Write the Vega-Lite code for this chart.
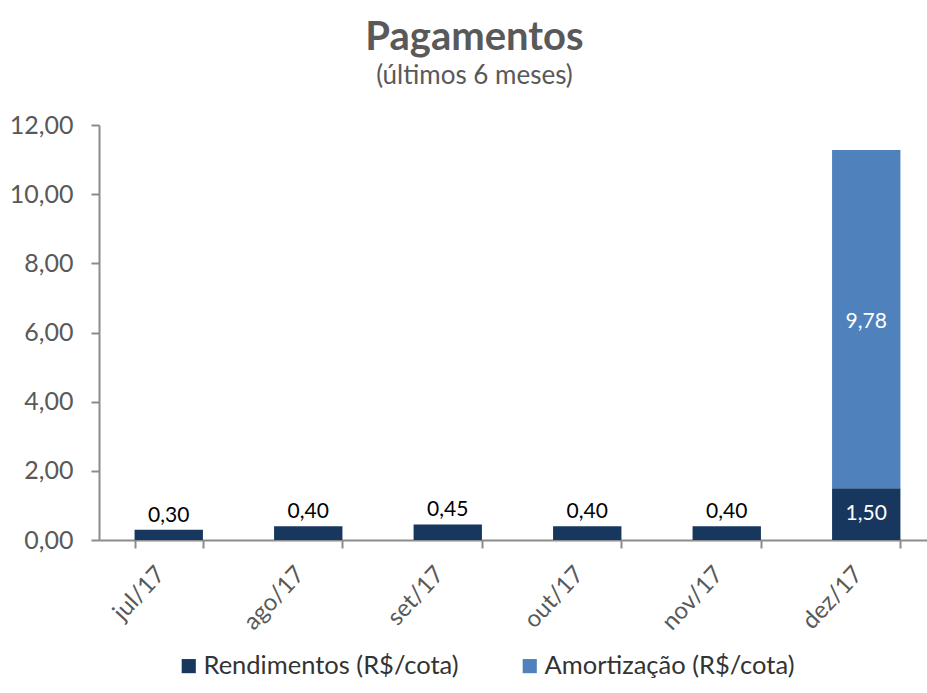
{
  "$schema": "https://vega.github.io/schema/vega-lite/v6.json",
  "autosize": "none",
  "width": 837,
  "height": 415,
  "padding": {"left": 99, "top": 125, "right": 0, "bottom": 153},
  "background": "white",
  "config": {
    "locale": {"number": {"decimal": ",", "thousands": ".", "grouping": [3], "currency": ["R$", ""]}},
    "font": "Lato",
    "view": {"stroke": null}
  },
  "title": {
    "text": "Pagamentos",
    "subtitle": "(últimos 6 meses)",
    "anchor": "middle",
    "frame": "group",
    "dx": -43,
    "offset": 24,
    "font": "Lato",
    "fontSize": 40,
    "fontWeight": "bold",
    "color": "#595959",
    "subtitleFont": "Lato",
    "subtitleFontSize": 26,
    "subtitleColor": "#595959",
    "subtitlePadding": 5
  },
  "data": {
    "values": [
      {"mes": "jul/17", "tipo": "Rendimentos (R$/cota)", "valor": 0.30},
      {"mes": "ago/17", "tipo": "Rendimentos (R$/cota)", "valor": 0.40},
      {"mes": "set/17", "tipo": "Rendimentos (R$/cota)", "valor": 0.45},
      {"mes": "out/17", "tipo": "Rendimentos (R$/cota)", "valor": 0.40},
      {"mes": "nov/17", "tipo": "Rendimentos (R$/cota)", "valor": 0.40},
      {"mes": "dez/17", "tipo": "Rendimentos (R$/cota)", "valor": 1.50},
      {"mes": "dez/17", "tipo": "Amortização (R$/cota)", "valor": 9.78}
    ]
  },
  "encoding": {
    "x": {
      "field": "mes",
      "type": "nominal",
      "sort": ["jul/17", "ago/17", "set/17", "out/17", "nov/17", "dez/17"],
      "scale": {"paddingInner": 0.51, "paddingOuter": 0.255},
      "axis": {
        "title": null,
        "labelAngle": -47,
        "labelAlign": "right",
        "labelBaseline": "middle",
        "labelFontSize": 24,
        "labelColor": "#595959",
        "labelPadding": 22,
        "labelOffset": -8,
        "tickBand": "extent",
        "tickSize": 8,
        "tickColor": "#8c8c8c",
        "domainColor": "#8c8c8c",
        "domainWidth": 2,
        "tickWidth": 2
      }
    }
  },
  "layer": [
    {
      "mark": {"type": "bar"},
      "encoding": {
        "y": {
          "field": "valor",
          "type": "quantitative",
          "stack": "zero",
          "scale": {"domain": [0, 12]},
          "axis": {
            "title": null,
            "values": [0, 2, 4, 6, 8, 10, 12],
            "format": ".2f",
            "grid": false,
            "labelFontSize": 25,
            "labelColor": "#595959",
            "labelPadding": 18,
            "tickSize": 8,
            "tickColor": "#8c8c8c",
            "domainColor": "#8c8c8c",
            "domainWidth": 2,
            "tickWidth": 2
          }
        },
        "color": {
          "field": "tipo",
          "type": "nominal",
          "sort": ["Rendimentos (R$/cota)", "Amortização (R$/cota)"],
          "scale": {"domain": ["Rendimentos (R$/cota)", "Amortização (R$/cota)"], "range": ["#17375E", "#4F81BD"]},
          "legend": {
            "title": null,
            "orient": "none",
            "direction": "horizontal",
            "legendX": 77,
            "legendY": 528,
            "symbolType": "square",
            "symbolSize": 200,
            "symbolStrokeWidth": 0,
            "labelFontSize": 25.5,
            "labelColor": "#333333",
            "labelLimit": 400,
            "columnPadding": 58,
            "labelOffset": 2
          }
        },
        "order": {"field": "tipo", "sort": "descending"}
      }
    },
    {
      "transform": [{"filter": "datum.mes != 'dez/17'"}],
      "mark": {"type": "text", "baseline": "bottom", "dy": -4, "fontSize": 21, "color": "#000000"},
      "encoding": {
        "y": {"field": "valor", "type": "quantitative"},
        "text": {"field": "valor", "type": "quantitative", "format": ".2f"}
      }
    },
    {
      "transform": [{"filter": "datum.mes == 'dez/17' && datum.tipo == 'Rendimentos (R$/cota)'"}],
      "mark": {"type": "text", "baseline": "middle", "dy": 26, "fontSize": 21, "color": "#ffffff"},
      "encoding": {
        "y": {"field": "valor", "type": "quantitative"},
        "text": {"field": "valor", "type": "quantitative", "format": ".2f"}
      }
    },
    {
      "transform": [{"filter": "datum.tipo == 'Amortização (R$/cota)'"}],
      "mark": {"type": "text", "baseline": "middle", "dy": 120, "fontSize": 21, "color": "#ffffff"},
      "encoding": {
        "y": {"field": "valor", "type": "quantitative"},
        "text": {"field": "valor", "type": "quantitative", "format": ".2f"}
      }
    }
  ]
}
